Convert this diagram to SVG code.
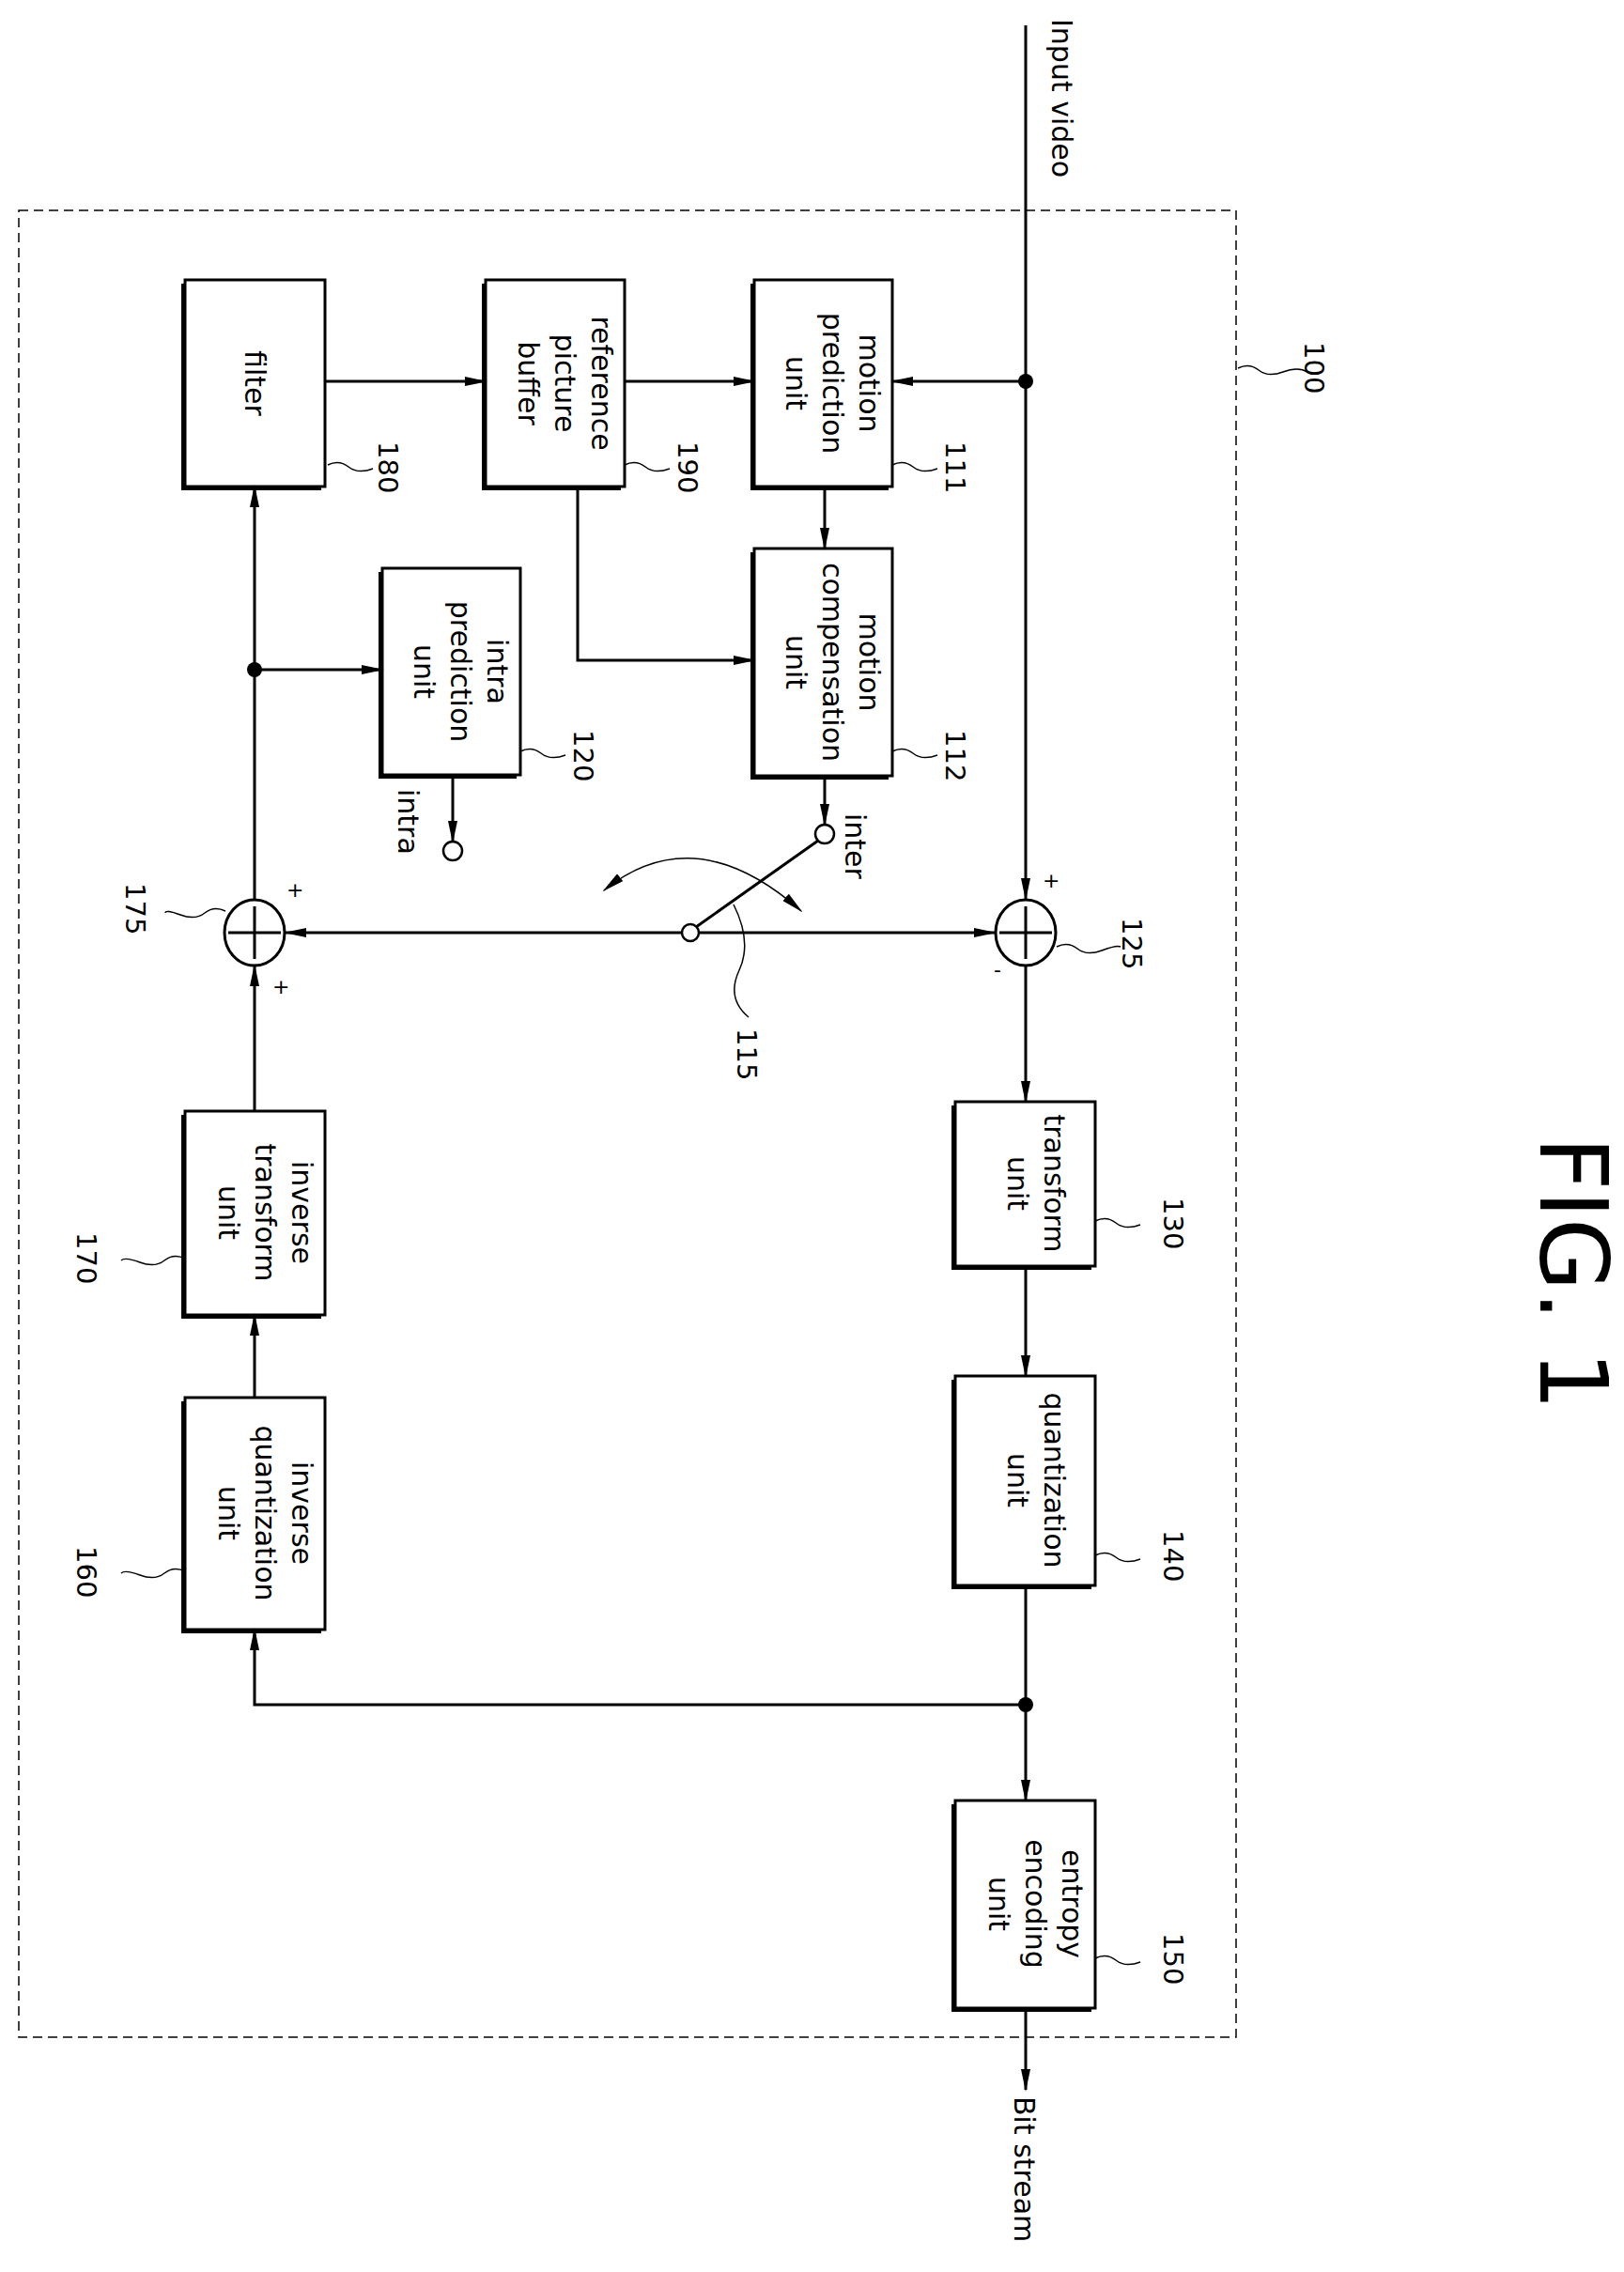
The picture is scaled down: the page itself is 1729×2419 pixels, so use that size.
<svg xmlns="http://www.w3.org/2000/svg" width="1729" height="2419" viewBox="0 0 1729 2419">
<style>
text{font-family:"DejaVu Sans","Liberation Sans",sans-serif;fill:#000}
.bt{font-size:30px}
.num{font-size:29px}
.box{fill:#fff;stroke:#000;stroke-width:3}
.sh{fill:#000}
.ln{fill:none;stroke:#000;stroke-width:3}
.ld{fill:none;stroke:#000;stroke-width:1.5}
</style>
<defs>
<marker id="ar" markerWidth="24" markerHeight="10" refX="22" refY="5" orient="auto" markerUnits="userSpaceOnUse"><path d="M0,0 L24,5 L0,10 Z" fill="#000"/></marker>
<marker id="ars" markerWidth="24" markerHeight="10" refX="2" refY="5" orient="auto" markerUnits="userSpaceOnUse"><path d="M24,0 L0,5 L24,10 Z" fill="#000"/></marker>
</defs>
<rect x="20" y="224" width="1296" height="1945" fill="none" stroke="#000" stroke-width="1.5" stroke-dasharray="10,6"/>
<text x="1120" y="20" class="bt" transform="rotate(90 1120 20)">Input video</text>
<text x="1080" y="2232" class="bt" transform="rotate(90 1080 2232)">Bit stream</text>
<text x="1640" y="1210" font-size="100" transform="rotate(90 1640 1210)">FIG. 1</text>

<g id="filter"><rect class="sh" x="193" y="302" width="149" height="220"/><rect class="box" x="197" y="298" width="149" height="220"/><text class="bt" text-anchor="middle" transform="translate(261 408) rotate(90)">filter</text></g>
<g id="refbuf"><rect class="sh" x="513" y="302" width="148" height="220"/><rect class="box" x="517" y="298" width="148" height="220"/><text class="bt" text-anchor="middle" transform="translate(630 408) rotate(90)"><tspan x="0" y="0">reference</tspan><tspan x="0" dy="39">picture</tspan><tspan x="0" dy="39">buffer</tspan></text></g>
<g id="mp"><rect class="sh" x="799" y="302" width="147" height="220"/><rect class="box" x="803" y="298" width="147" height="220"/><text class="bt" text-anchor="middle" transform="translate(915 408) rotate(90)"><tspan x="0" y="0">motion</tspan><tspan x="0" dy="39">prediction</tspan><tspan x="0" dy="39">unit</tspan></text></g>
<g id="mc"><rect class="sh" x="799" y="588" width="147" height="242"/><rect class="box" x="803" y="584" width="147" height="242"/><text class="bt" text-anchor="middle" transform="translate(915 705) rotate(90)"><tspan x="0" y="0">motion</tspan><tspan x="0" dy="39">compensation</tspan><tspan x="0" dy="39">unit</tspan></text></g>
<g id="intra"><rect class="sh" x="403" y="609" width="147" height="220"/><rect class="box" x="407" y="605" width="147" height="220"/><text class="bt" text-anchor="middle" transform="translate(519 715) rotate(90)"><tspan x="0" y="0">intra</tspan><tspan x="0" dy="39">prediction</tspan><tspan x="0" dy="39">unit</tspan></text></g>
<g id="transform"><rect class="sh" x="1013" y="1177" width="149" height="175"/><rect class="box" x="1017" y="1173" width="149" height="175"/><text class="bt" text-anchor="middle" transform="translate(1112 1260) rotate(90)"><tspan x="0" y="0">transform</tspan><tspan x="0" dy="39">unit</tspan></text></g>
<g id="quant"><rect class="sh" x="1013" y="1469" width="149" height="223"/><rect class="box" x="1017" y="1465" width="149" height="223"/><text class="bt" text-anchor="middle" transform="translate(1112 1576) rotate(90)"><tspan x="0" y="0">quantization</tspan><tspan x="0" dy="39">unit</tspan></text></g>
<g id="entropy"><rect class="sh" x="1013" y="1921" width="149" height="221"/><rect class="box" x="1017" y="1917" width="149" height="221"/><text class="bt" text-anchor="middle" transform="translate(1131 2027) rotate(90)"><tspan x="0" y="0">entropy</tspan><tspan x="0" dy="39">encoding</tspan><tspan x="0" dy="39">unit</tspan></text></g>
<g id="invT"><rect class="sh" x="193" y="1187" width="149" height="217"/><rect class="box" x="197" y="1183" width="149" height="217"/><text class="bt" text-anchor="middle" transform="translate(311 1291) rotate(90)"><tspan x="0" y="0">inverse</tspan><tspan x="0" dy="39">transform</tspan><tspan x="0" dy="39">unit</tspan></text></g>
<g id="invQ"><rect class="sh" x="193" y="1492" width="149" height="247"/><rect class="box" x="197" y="1488" width="149" height="247"/><text class="bt" text-anchor="middle" transform="translate(311 1611) rotate(90)"><tspan x="0" y="0">inverse</tspan><tspan x="0" dy="39">quantization</tspan><tspan x="0" dy="39">unit</tspan></text></g>
<g id="add175"><ellipse cx="271" cy="993" rx="32" ry="35" fill="#fff" stroke="#000" stroke-width="3"/><path class="ln" d="M243,993 H299 M271,965 V1021"/><text x="305" y="955" font-size="22">+</text><text x="290" y="1058" font-size="22">+</text></g>
<g id="add125"><ellipse cx="1092" cy="993" rx="32" ry="35" fill="#fff" stroke="#000" stroke-width="3"/><path class="ln" d="M1064,993 H1120 M1092,965 V1021"/><text x="1110" y="945" font-size="22">+</text><text x="1058" y="1040" font-size="22">-</text></g>
<g id="switch"><circle cx="735" cy="993" r="9" fill="#fff" stroke="#000" stroke-width="2.5"/><circle cx="878" cy="888" r="10" fill="#fff" stroke="#000" stroke-width="2.5"/><circle cx="482" cy="906" r="10" fill="#fff" stroke="#000" stroke-width="2.5"/>
<text class="bt" transform="translate(900 866) rotate(90)">inter</text><text class="bt" transform="translate(424 840) rotate(90)">intra</text></g>

<g id="connectors">
<path class="ln" d="M1092,27 V957" marker-end="url(#ar)"/>
<path class="ln" d="M1092,406 H950" marker-end="url(#ar)"/>
<circle cx="1092" cy="406" r="8"/>
<path class="ln" d="M346,406 H517" marker-end="url(#ar)"/>
<path class="ln" d="M665,406 H803" marker-end="url(#ar)"/>
<path class="ln" d="M878,518 V584" marker-end="url(#ar)"/>
<path class="ln" d="M615,518 V703 H803" marker-end="url(#ar)"/>
<path class="ln" d="M878,826 V878" marker-end="url(#ar)"/>
<path class="ln" d="M482,825 V896" marker-end="url(#ar)"/>
<path class="ln" d="M741,987 L871,895"/>
<path class="ln" d="M726,993 H304" marker-end="url(#ar)"/>
<path class="ln" d="M744,993 H1059" marker-end="url(#ar)"/>
<path class="ld" d="M643,948 Q740,870 853,970" stroke-width="2" marker-start="url(#ars)" marker-end="url(#ar)"/>
<path class="ln" d="M1092,1028 V1173" marker-end="url(#ar)"/>
<path class="ln" d="M1092,1348 V1465" marker-end="url(#ar)"/>
<path class="ln" d="M1092,1688 V1917" marker-end="url(#ar)"/>
<circle cx="1092" cy="1815" r="8"/>
<path class="ln" d="M1092,1815 H271 V1735" marker-end="url(#ar)"/>
<path class="ln" d="M1092,2138 V2225" marker-end="url(#ar)"/>
<path class="ln" d="M271,1488 V1400" marker-end="url(#ar)"/>
<path class="ln" d="M271,1183 V1028" marker-end="url(#ar)"/>
<path class="ln" d="M271,958 V518" marker-end="url(#ar)"/>
<circle cx="271" cy="713" r="8"/>
<path class="ln" d="M271,713 H407" marker-end="url(#ar)"/>
</g>

<g id="labels">
<path class="ld" d="M349,495 q12,-6 22,2 t26,2"/><text class="num" transform="translate(403 470) rotate(90)">180</text>
<path class="ld" d="M665,495 q12,-6 22,2 t26,2"/><text class="num" transform="translate(722 470) rotate(90)">190</text>
<path class="ld" d="M950,495 q12,-6 22,2 t26,2"/><text class="num" transform="translate(1007 470) rotate(90)">111</text>
<path class="ld" d="M950,800 q12,-6 22,2 t26,2"/><text class="num" transform="translate(1007 777) rotate(90)">112</text>
<path class="ld" d="M554,800 q12,-6 22,2 t26,2"/><text class="num" transform="translate(611 777) rotate(90)">120</text>
<path class="ld" d="M1318,392 q12,-6 22,2 t26,2 t26,0"/><text class="num" transform="translate(1389 364) rotate(90)">100</text>
<path class="ld" d="M1125,1008 q12,-6 22,2 t26,2 t20,-4"/><text class="num" transform="translate(1195 977) rotate(90)">125</text>
<path class="ld" d="M240,970 q-12,-6 -22,2 t-26,2 t-16,-2"/><text class="num" transform="translate(134 940) rotate(90)">175</text>
<path class="ld" d="M781,963 q20,40 6,70 t10,50"/><text class="num" transform="translate(785 1095) rotate(90)">115</text>
<path class="ld" d="M1166,1300 q12,-6 22,2 t26,2"/><text class="num" transform="translate(1239 1275) rotate(90)">130</text>
<path class="ld" d="M1166,1656 q12,-6 22,2 t26,2"/><text class="num" transform="translate(1239 1629) rotate(90)">140</text>
<path class="ld" d="M1166,2085 q12,-6 22,2 t26,2"/><text class="num" transform="translate(1239 2058) rotate(90)">150</text>
<path class="ld" d="M197,1340 q-12,-6 -22,2 t-26,2 t-20,-2"/><text class="num" transform="translate(82 1312) rotate(90)">170</text>
<path class="ld" d="M197,1673 q-12,-6 -22,2 t-26,2 t-20,-2"/><text class="num" transform="translate(82 1646) rotate(90)">160</text>
</g>
</svg>
